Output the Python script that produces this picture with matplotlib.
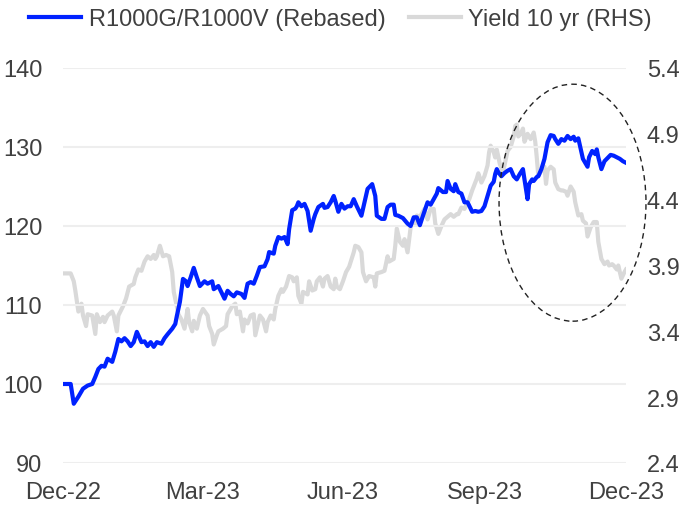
import numpy as np
import pandas as pd
import matplotlib
matplotlib.use("Agg")
import matplotlib.pyplot as plt
from matplotlib.patches import Ellipse

plt.rcParams['font.family'] = ['Liberation Sans', 'DejaVu Sans']

# data (days since 30-Dec-2022)
start = pd.Timestamp('2022-12-30')

blue_days = [0, 5, 7, 10, 13, 16, 19, 21, 23, 25, 27, 29, 32, 34, 36, 38, 40, 42, 44, 46,
             48, 51, 53, 55, 57, 59, 61, 64, 66, 68, 71, 73, 74, 76, 78, 80, 81, 83, 85, 87,
             89, 92, 94, 97, 98, 101, 103, 105, 107, 109, 111, 113, 116, 118, 120, 122, 124, 126, 128, 131,
             133, 134, 137, 138, 140, 142, 144, 146, 147, 149, 151, 152, 153, 155, 157, 159, 161, 163, 164, 166,
             169, 170, 172, 174, 176, 177, 179, 181, 183, 185, 187, 189, 191, 194, 196, 198, 201, 203, 204, 207,
             209, 211, 213, 215, 216, 218, 221, 224, 226, 228, 230, 232, 234, 237, 239, 241, 243, 244, 247, 249,
             250, 252, 254, 255, 257, 259, 261, 263, 266, 268, 270, 272, 274, 276, 278, 280, 281, 282, 283, 285,
             287, 289, 291, 293, 295, 297, 299, 300, 302, 303, 305, 306, 308, 309, 311, 313, 315, 317, 319, 320,
             322, 324, 326, 328, 330, 332, 333, 335, 337, 338, 341, 342, 344, 346, 347, 348, 350, 352, 354, 356,
             358, 360, 362, 364, 366]
blue_vals = [100.0, 100.0, 97.5, 98.4, 99.4, 99.8, 100.0, 100.9, 101.9, 102.3, 102.2, 103.2, 102.8, 104.1, 105.7, 105.4, 105.8, 105.4, 104.8, 105.3,
             106.6, 105.3, 105.4, 104.8, 105.3, 104.7, 105.3, 105.1, 105.8, 106.3, 107.0, 107.6, 108.6, 110.4, 113.3, 113.0, 112.4, 113.5, 114.7, 113.5,
             112.4, 113.0, 112.7, 113.0, 112.0, 112.4, 111.6, 110.8, 111.8, 111.4, 111.1, 111.6, 111.4, 110.9, 112.7, 112.9, 112.7, 113.7, 114.8, 114.9,
             115.8, 116.7, 116.5, 117.5, 118.6, 118.4, 118.6, 117.7, 119.6, 122.0, 122.2, 122.5, 123.0, 122.5, 122.8, 121.9, 119.4, 120.9, 121.5, 122.4,
             122.8, 122.3, 122.4, 123.0, 123.8, 123.2, 121.8, 122.8, 122.2, 122.5, 122.5, 123.4, 122.5, 121.3, 123.0, 124.7, 125.3, 123.8, 121.3, 120.9,
             120.9, 122.4, 122.7, 122.7, 121.4, 121.3, 121.0, 120.3, 120.0, 121.1, 121.1, 120.1, 121.3, 123.0, 122.7, 123.4, 124.1, 124.8, 124.3, 124.3,
             125.7, 124.7, 124.4, 125.3, 124.3, 124.1, 123.0, 123.0, 121.8, 121.9, 121.8, 121.9, 122.5, 123.8, 125.1, 125.6, 126.6, 127.2, 126.8, 126.3,
             126.7, 127.0, 127.2, 126.3, 125.9, 126.6, 127.2, 125.9, 123.4, 125.3, 125.9, 125.7, 126.2, 126.3, 127.2, 128.5, 130.6, 131.5, 131.4, 131.0,
             130.4, 131.0, 130.8, 131.4, 131.0, 131.3, 130.8, 131.1, 129.4, 128.5, 127.5, 128.7, 129.5, 129.1, 129.7, 128.7, 127.2, 128.2, 128.6, 129.0,
             128.9, 128.7, 128.5, 128.2, 128.0]

gray_days = [0, 5, 7, 8, 10, 12, 13, 15, 16, 19, 21, 22, 24, 26, 27, 29, 32, 33, 35, 36,
             39, 41, 43, 46, 47, 49, 51, 53, 55, 57, 59, 60, 61, 63, 65, 67, 69, 71, 72, 74,
             75, 77, 79, 81, 82, 84, 85, 87, 89, 91, 94, 95, 97, 98, 100, 101, 104, 106, 107, 110,
             112, 113, 115, 117, 118, 120, 122, 124, 125, 126, 128, 130, 132, 133, 135, 137, 138, 140, 142, 143,
             145, 147, 149, 150, 152, 153, 155, 156, 159, 160, 162, 164, 165, 167, 169, 170, 172, 174, 176, 177,
             178, 180, 182, 184, 186, 189, 190, 192, 194, 195, 197, 199, 202, 203, 204, 207, 209, 211, 212, 215,
             216, 217, 219, 221, 222, 224, 226, 228, 229, 230, 232, 234, 235, 237, 239, 241, 242, 244, 246, 248,
             250, 252, 254, 256, 257, 259, 261, 263, 264, 266, 267, 269, 270, 272, 274, 276, 277, 278, 280, 281,
             282, 284, 286, 287, 289, 291, 293, 294, 295, 296, 298, 299, 300, 302, 304, 306, 307, 308, 309, 311,
             313, 314, 315, 317, 319, 320, 322, 324, 325, 327, 328, 330, 332, 333, 335, 337, 338, 340, 341, 343,
             345, 346, 347, 348, 350, 352, 354, 355, 357, 358, 360, 361, 363, 365, 366]
gray_vals = [3.84, 3.84, 3.78, 3.71, 3.55, 3.61, 3.52, 3.44, 3.53, 3.52, 3.38, 3.53, 3.47, 3.51, 3.47, 3.52, 3.55, 3.52, 3.40, 3.52,
             3.59, 3.65, 3.74, 3.76, 3.81, 3.87, 3.86, 3.93, 3.97, 3.95, 3.98, 3.95, 3.97, 4.05, 3.97, 3.98, 3.97, 3.85, 3.70, 3.59,
             3.53, 3.49, 3.42, 3.57, 3.47, 3.40, 3.48, 3.42, 3.52, 3.57, 3.52, 3.44, 3.38, 3.30, 3.37, 3.40, 3.42, 3.44, 3.53, 3.59,
             3.61, 3.53, 3.55, 3.40, 3.49, 3.46, 3.52, 3.53, 3.37, 3.42, 3.52, 3.49, 3.40, 3.47, 3.52, 3.49, 3.57, 3.67, 3.72, 3.70,
             3.74, 3.82, 3.81, 3.78, 3.81, 3.67, 3.61, 3.70, 3.68, 3.78, 3.71, 3.72, 3.78, 3.81, 3.74, 3.80, 3.82, 3.74, 3.72, 3.80,
             3.74, 3.72, 3.78, 3.85, 3.89, 4.00, 4.05, 4.04, 4.00, 3.85, 3.78, 3.82, 3.81, 3.74, 3.84, 3.85, 3.86, 3.97, 3.93, 3.95,
             4.05, 4.18, 4.08, 4.05, 4.10, 4.00, 4.19, 4.23, 4.22, 4.28, 4.27, 4.31, 4.33, 4.25, 4.33, 4.33, 4.22, 4.14, 4.20, 4.25,
             4.27, 4.29, 4.27, 4.29, 4.29, 4.34, 4.33, 4.38, 4.40, 4.47, 4.50, 4.56, 4.60, 4.53, 4.58, 4.66, 4.76, 4.81, 4.76, 4.72,
             4.78, 4.67, 4.61, 4.66, 4.77, 4.80, 4.88, 4.96, 4.97, 4.88, 4.91, 4.94, 4.84, 4.90, 4.86, 4.91, 4.84, 4.72, 4.58, 4.62,
             4.65, 4.52, 4.62, 4.65, 4.63, 4.53, 4.48, 4.47, 4.47, 4.46, 4.43, 4.50, 4.46, 4.38, 4.28, 4.29, 4.24, 4.22, 4.12, 4.19,
             4.23, 4.23, 4.23, 4.08, 3.95, 3.91, 3.93, 3.90, 3.91, 3.90, 3.87, 3.90, 3.80, 3.85, 3.87]

tick_dates = ['2022-12-30', '2023-03-31', '2023-06-30', '2023-09-30', '2023-12-31']
tick_labels = ['Dec-22', 'Mar-23', 'Jun-23', 'Sep-23', 'Dec-23']
left_ticks = [90, 100, 110, 120, 130, 140]
right_ticks = [2.4, 2.9, 3.4, 3.9, 4.4, 4.9, 5.4]

blue_x = start + pd.to_timedelta(blue_days, unit='D')
gray_x = start + pd.to_timedelta(gray_days, unit='D')

txt = '#404040'
fig = plt.figure(figsize=(6.81, 5.06), dpi=100)
ax = fig.add_axes([63 / 681, 42 / 506, 563 / 681, 395 / 506])
ax2 = ax.twinx()

g, = ax2.plot(gray_x, gray_vals, color='#d9d9d9', linewidth=3.0, solid_joinstyle='round')
b, = ax.plot(blue_x, blue_vals, color='#0022ff', linewidth=3.0, solid_joinstyle='round')
ax.set_zorder(ax2.get_zorder() + 1)
ax.patch.set_visible(False)

ax.set_ylim(90, 140)
ax2.set_ylim(2.4, 5.4)
ax.set_xlim(pd.Timestamp(tick_dates[0]), pd.Timestamp(tick_dates[-1]))
ax.set_yticks(left_ticks)
ax2.set_yticks(right_ticks)
ax2.set_yticklabels([f'{v:.1f}' for v in right_ticks])
ax.set_xticks(pd.to_datetime(tick_dates))
ax.set_xticklabels(tick_labels)
ax.grid(axis='y', color='#eeeeee', linewidth=1.5)
ax.set_axisbelow(True)

for a in (ax, ax2):
    for s in a.spines.values():
        s.set_visible(False)
    a.tick_params(length=0, labelsize=17, labelcolor=txt)
ax.tick_params(axis='y', pad=15)
ax2.tick_params(axis='y', pad=15)
ax.tick_params(axis='x', pad=13)

# highlight ellipse
ell = Ellipse((0.905, 0.659), 0.261, 0.600, transform=ax.transAxes, fill=False,
              edgecolor='#222222', linestyle=(0, (4, 3)), linewidth=1.0, clip_on=False, zorder=5)
ax.add_patch(ell)

fig.legend([b, g], ['R1000G/R1000V (Rebased)', 'Yield 10 yr (RHS)'], loc='center',
           bbox_to_anchor=(0.5, 1 - 20 / 506), ncol=2, frameon=False, fontsize=17,
           labelcolor=txt, handlelength=2.2, handletextpad=0.3, columnspacing=1.0)

fig.savefig('out.png', dpi=100)
